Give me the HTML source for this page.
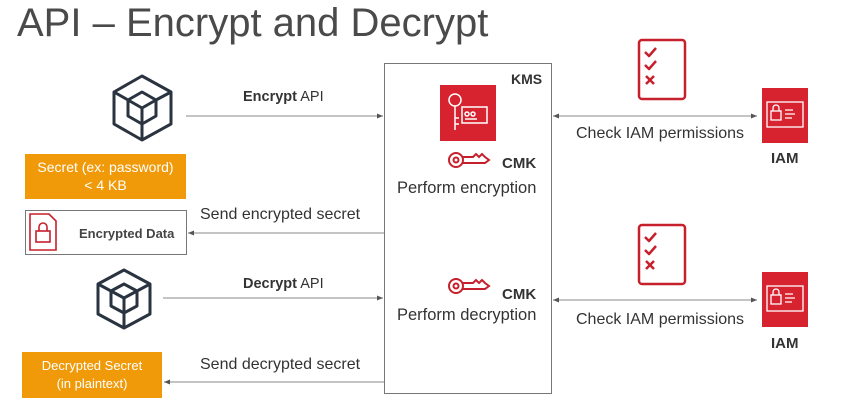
<!DOCTYPE html>
<html><head><style>
body{margin:0;width:866px;height:408px;background:#fff;font-family:"Liberation Sans",sans-serif;color:#333;position:relative;overflow:hidden}
.a{position:absolute}
.t{font-size:14px;white-space:nowrap}
.or{background:#f09a09;color:#fff;text-align:center;font-size:13px;line-height:18px}
</style></head><body>
<div class="a" style="left:17px;top:1px;font-size:40px;color:#4a4a4a;letter-spacing:0px;font-weight:300">API – Encrypt and Decrypt</div>
<svg class="a" style="left:0;top:0" width="866" height="408">
<defs><marker id="ar" markerWidth="6" markerHeight="6" refX="6" refY="3" orient="auto-start-reverse"><path d="M0,0.5 L6,3 L0,5.5z" fill="#555"/></marker></defs>
<rect x="384.5" y="63.5" width="167" height="330" fill="none" stroke="#777"/>
<g stroke="#888" stroke-width="1" fill="none">
<line x1="186" y1="116" x2="383" y2="116" marker-end="url(#ar)"/>
<line x1="384" y1="233" x2="188" y2="233" marker-end="url(#ar)"/>
<line x1="163" y1="298" x2="383" y2="298" marker-end="url(#ar)"/>
<line x1="384" y1="382" x2="164" y2="382" marker-end="url(#ar)"/>
<line x1="553" y1="116" x2="757" y2="116" marker-start="url(#ar)" marker-end="url(#ar)"/>
<line x1="553" y1="300" x2="757" y2="300" marker-start="url(#ar)" marker-end="url(#ar)"/>
</g>
<g fill="none" stroke="#2a3340" stroke-width="3" stroke-linejoin="round">
<path d="M142,76 L171,92 L171,124 L142,140 L114,124 L114,92Z M142,92 L156,100 L156,116 L142,124 L128,116 L128,100Z M142,108 L128,100 M142,108 L156,100 M142,108 L142,140 M114,92 L128,100 M171,92 L156,100"/>
<path d="M124,270 L150,284 L150,314 L124,328 L98,314 L98,284Z M124,284 L137,291 L137,306 L124,313 L111,306 L111,291Z M124,298 L111,291 M124,298 L137,291 M124,298 L124,328 M98,284 L111,291 M150,284 L137,291"/>
</g>
<rect x="25.5" y="210.5" width="161" height="44" fill="#fff" stroke="#777"/>
<g fill="none" stroke="#c7202d" stroke-width="1.6">
<path d="M30,214 L49,214 L56,221 L56,250 L30,250Z"/><rect x="36" y="231" width="14" height="11"/><path d="M39,231 v-4 a4,4 0 0 1 8,0 v4"/>
</g>
<rect x="440" y="85" width="56" height="56" fill="#d6232f"/>
<g fill="none" stroke="#fff" stroke-width="1.5"><circle cx="455" cy="100" r="6"/><path d="M455,106 v24 M455,118 h4 M455,124 h4"/><rect x="462" y="107" width="25" height="16"/><circle cx="467" cy="114" r="2"/><circle cx="473" cy="114" r="2"/><path d="M465,119 h12"/></g>
<g fill="none" stroke="#c7202d" stroke-width="2">
<circle cx="456" cy="160" r="7"/><circle cx="456" cy="160" r="2.5"/><path d="M463,157 h10 l3,-3 3,3 3,-3 3,3 4,3 -4,3 H463"/>
<circle cx="456" cy="286" r="7"/><circle cx="456" cy="286" r="2.5"/><path d="M463,283 h10 l3,-3 3,3 3,-3 3,3 4,3 -4,3 H463"/>
</g>
<g fill="none" stroke="#c7202d" stroke-width="2.5" stroke-linejoin="round">
<rect x="639" y="40" width="46" height="59" rx="3"/><path d="M645,52 l4,4 7,-8 M645,65 l4,4 7,-8 M646,76 l8,8 M654,76 l-8,8"/>
<rect x="639" y="225" width="46" height="59" rx="3"/><path d="M645,237 l4,4 7,-8 M645,250 l4,4 7,-8 M646,261 l8,8 M654,261 l-8,8"/>
</g>
<rect x="762" y="88" width="46" height="55" fill="#d6232f"/>
<rect x="762" y="272" width="46" height="55" fill="#d6232f"/>
<g fill="none" stroke="#fff" stroke-width="1.3"><rect x="767" y="102" width="36" height="25"/><rect x="771" y="111" width="10" height="9"/><path d="M773,111 v-3 a3,3 0 0 1 6,0 v3 M785,110 h8 M785,114 h10 M785,118 h7"/>
<rect x="767" y="286" width="36" height="25"/><rect x="771" y="295" width="10" height="9"/><path d="M773,295 v-3 a3,3 0 0 1 6,0 v3 M785,294 h8 M785,298 h10 M785,302 h7"/></g>
</svg>
<div class="a or" style="left:25px;top:154px;width:161px;height:45px;padding-top:4px;box-sizing:border-box;font-size:14px">Secret (ex: password)<br>&lt; 4 KB</div>
<div class="a or" style="left:22px;top:352px;width:140px;height:46px;padding-top:5px;box-sizing:border-box">Decrypted Secret<br>(in plaintext)</div>
<div class="a t" style="left:79px;top:226px;font-size:13px;font-weight:bold;color:#444">Encrypted Data</div>
<div class="a t" style="left:243px;top:89px;font-size:14.5px"><b>Encrypt</b> API</div>
<div class="a t" style="left:200px;top:206px;font-size:16px">Send encrypted secret</div>
<div class="a t" style="left:243px;top:276px;font-size:14.5px"><b>Decrypt</b> API</div>
<div class="a t" style="left:200px;top:356px;font-size:16px">Send decrypted secret</div>
<div class="a t" style="left:511px;top:71px;font-size:14px;font-weight:bold">KMS</div>
<div class="a t" style="left:502px;top:155px;font-weight:bold;font-size:15px">CMK</div>
<div class="a t" style="left:397px;top:179px;font-size:16.5px">Perform encryption</div>
<div class="a t" style="left:502px;top:286px;font-weight:bold;font-size:15px">CMK</div>
<div class="a t" style="left:397px;top:306px;font-size:16.5px">Perform decryption</div>
<div class="a t" style="left:576px;top:125px;font-size:16px">Check IAM permissions</div>
<div class="a t" style="left:576px;top:311px;font-size:16px">Check IAM permissions</div>
<div class="a t" style="left:771px;top:150px;font-weight:bold;font-size:15px">IAM</div>
<div class="a t" style="left:771px;top:335px;font-weight:bold;font-size:15px">IAM</div>
</body></html>
